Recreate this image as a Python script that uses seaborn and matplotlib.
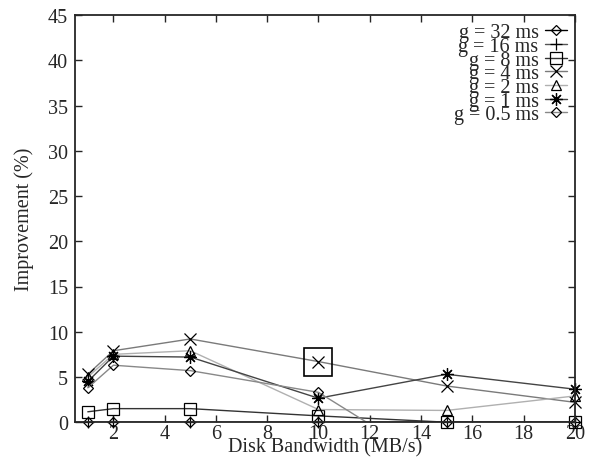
"""Improvement vs. disk bandwidth, gnuplot-like line chart."""
import matplotlib
matplotlib.use("Agg")

import numpy as np
import pandas as pd
import seaborn as sns
import matplotlib.pyplot as plt
from matplotlib.lines import Line2D

# bandwidth (MB/s)
bandwidth = [1, 2, 5, 10, 15, 20]

# improvement (%) per series (negative = below the axis)
imp_32ms = [0.0, 0.0, 0.0, 0.0, 0.0, 0.0]
imp_16ms = [0.0, 0.0, 0.0, 0.0, 0.0, 0.0]
imp_8ms = [1.15, 1.5, 1.5, 0.7, 0.0, 0.0]
imp_4ms = [5.3, 7.9, 9.2, 6.7, 4.0, 2.2]
imp_2ms = [5.0, 7.5, 7.9, 1.4, 1.3, 2.9]
imp_1ms = [4.5, 7.3, 7.2, 2.65, 5.3, 3.65]
imp_05ms = [3.8, 6.3, 5.7, 3.3, -5.5, -3.0]

labels = ["g = 32 ms", "g = 16 ms", "g = 8 ms", "g = 4 ms",
          "g = 2 ms", "g = 1 ms", "g = 0.5 ms"]

# highlighted point
mark_x = [10]
mark_y = [6.7]

series = [imp_32ms, imp_16ms, imp_8ms, imp_4ms, imp_2ms, imp_1ms, imp_05ms]
markers = ["D", "+", "s", "x", "^", (8, 2, 0), "D"]
msizes = [5.5, 9, 8, 8, 7, 9, 5.5]
colors = ["#000000", "#555555", "#333333", "#7a7a7a", "#b0b0b0", "#444444", "#888888"]

sns.set_style("ticks")
plt.rcParams["font.family"] = ["Liberation Serif", "DejaVu Serif"]

fig = plt.figure(figsize=(5.95, 4.6), dpi=100)
ax = fig.add_axes([0.126, 0.080, 0.840, 0.885])

handles = []
for vals, lab, mk, ms, col in zip(series, labels, markers, msizes, colors):
    df = pd.DataFrame({"bw": bandwidth, "imp": vals})
    sns.lineplot(data=df, x="bw", y="imp", ax=ax, color=col, lw=1.0,
                 estimator=None, sort=False, legend=False)
    vis = df[df["imp"] >= 0]
    sns.lineplot(data=vis, x="bw", y="imp", ax=ax, color="black", ls="",
                 marker=mk, markersize=ms, markerfacecolor="none",
                 markeredgecolor="black", markeredgewidth=0.9,
                 estimator=None, legend=False, clip_on=False)
    handles.append(Line2D([], [], color=col, lw=1.0, marker=mk, markersize=ms,
                          markerfacecolor="none", markeredgecolor="black",
                          markeredgewidth=0.9))

ax.plot(mark_x, mark_y, ls="", marker="s", markersize=20,
        markerfacecolor="none", markeredgecolor="black", markeredgewidth=1.2)

ax.set_xlim(0.5, 20)
ax.set_ylim(0, 45)
ax.set_xticks(np.arange(2, 21, 2))
ax.set_yticks(np.arange(0, 46, 5))
ax.tick_params(direction="in", length=5, width=1, top=True, right=True,
               labelsize=14.5)
ax.tick_params(axis="x", pad=1)
ax.tick_params(axis="y", pad=5)
for sp in ax.spines.values():
    sp.set_linewidth(1.3)
    sp.set_visible(True)

ax.set_xlabel("Disk Bandwidth (MB/s)", fontsize=14.5, labelpad=-4)
ax.set_ylabel("Improvement (%)", fontsize=14.5, labelpad=10)

ax.legend(handles, labels, loc="upper right", markerfirst=False, frameon=False,
          fontsize=14.5, handlelength=1.1, handletextpad=0.3,
          labelspacing=-0.27, borderaxespad=0.0, bbox_to_anchor=(1.0, 1.0))

fig.savefig("out.png", dpi=100)
plt.close(fig)
